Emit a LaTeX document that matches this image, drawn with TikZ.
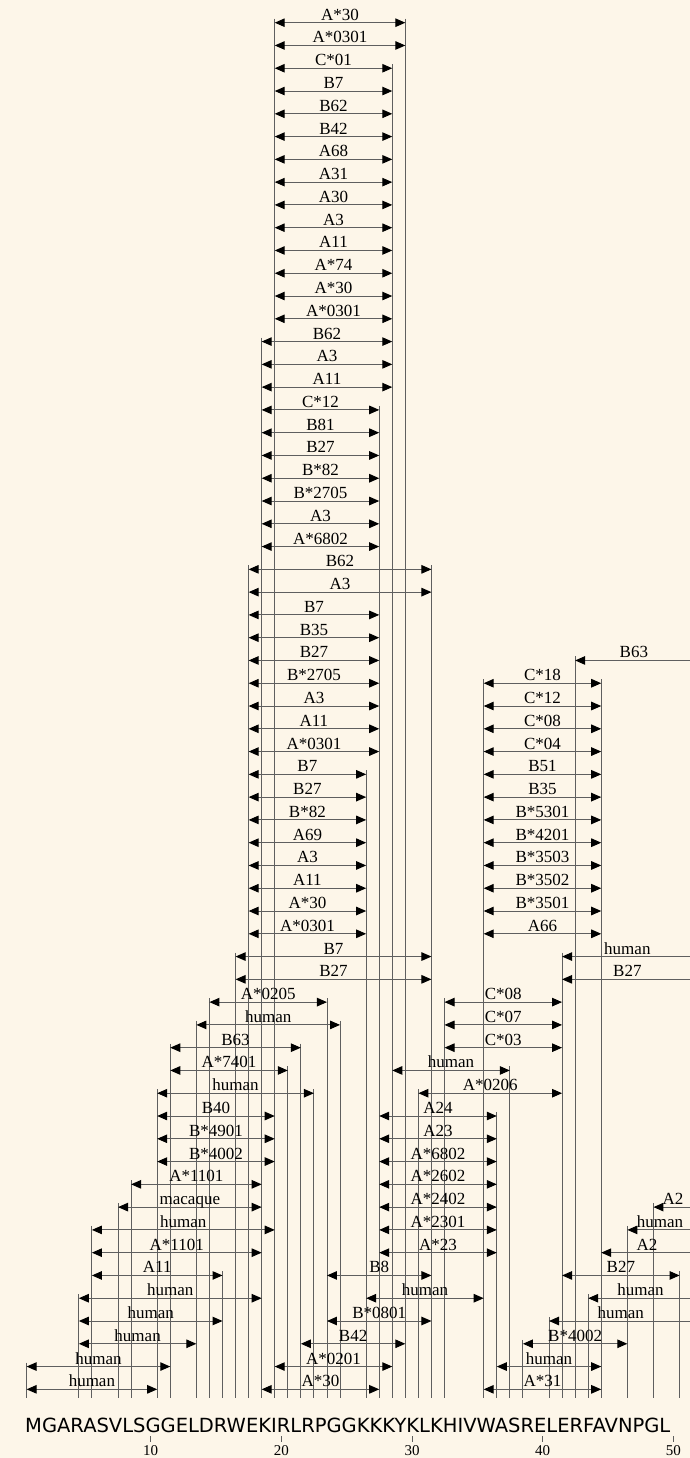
\documentclass[tikz,border=0pt]{standalone}
\usepackage{fontspec}
\setmainfont{Liberation Serif}
\newfontfamily\seqfont{DejaVu Sans}
\usetikzlibrary{arrows.meta}
\definecolor{paper}{RGB}{253,246,233}
\definecolor{rule}{RGB}{95,95,95}
\newcommand{\bnd}[1]{26.6+13.06*(#1)}
\newcommand{\rowy}[1]{22.7+22.777*(#1-1)}
\begin{document}
\begin{tikzpicture}[x=1pt,y=-1pt,
    twoway/.style={draw=rule,line width=1pt,{Triangle[length=10pt,width=8.5pt,color=black]}-{Triangle[length=10pt,width=8.5pt,color=black]}},
    oneway/.style={draw=rule,line width=1pt,{Triangle[length=10pt,width=8.5pt,color=black]}-},
    drop/.style={draw=rule,line width=0.9pt},
    allele/.style={font=\fontsize{17}{17}\selectfont,anchor=base,inner sep=0pt,yshift=2.5pt},
    num/.style={font=\fontsize{15}{15}\selectfont,anchor=base,inner sep=0pt}]
    \path[use as bounding box,fill=paper] (0,0) rectangle (690,1458);
    \clip (0,0) rectangle (690,1458);
    \coordinate (floor) at (0,1398);
    \foreach \row/\from/\to/\lab/\kind [count=\n] in {
        1/20/29/A*30/twoway, 2/20/29/A*0301/twoway, 3/20/28/C*01/twoway, 4/20/28/B7/twoway,
        5/20/28/B62/twoway, 6/20/28/B42/twoway, 7/20/28/A68/twoway, 8/20/28/A31/twoway,
        9/20/28/A30/twoway, 10/20/28/A3/twoway, 11/20/28/A11/twoway, 12/20/28/A*74/twoway,
        13/20/28/A*30/twoway, 14/20/28/A*0301/twoway, 15/19/28/B62/twoway, 16/19/28/A3/twoway,
        17/19/28/A11/twoway, 18/19/27/C*12/twoway, 19/19/27/B81/twoway, 20/19/27/B27/twoway,
        21/19/27/B*82/twoway, 22/19/27/B*2705/twoway, 23/19/27/A3/twoway, 24/19/27/A*6802/twoway,
        25/18/31/B62/twoway, 26/18/31/A3/twoway, 27/18/27/B7/twoway, 28/18/27/B35/twoway,
        29/18/27/B27/twoway, 29/43/51/B63/oneway,
        30/18/27/B*2705/twoway, 30/36/44/C*18/twoway,
        31/18/27/A3/twoway, 31/36/44/C*12/twoway,
        32/18/27/A11/twoway, 32/36/44/C*08/twoway,
        33/18/27/A*0301/twoway, 33/36/44/C*04/twoway,
        34/18/26/B7/twoway, 34/36/44/B51/twoway,
        35/18/26/B27/twoway, 35/36/44/B35/twoway,
        36/18/26/B*82/twoway, 36/36/44/B*5301/twoway,
        37/18/26/A69/twoway, 37/36/44/B*4201/twoway,
        38/18/26/A3/twoway, 38/36/44/B*3503/twoway,
        39/18/26/A11/twoway, 39/36/44/B*3502/twoway,
        40/18/26/A*30/twoway, 40/36/44/B*3501/twoway,
        41/18/26/A*0301/twoway, 41/36/44/A66/twoway,
        42/17/31/B7/twoway, 42/42/51/human/oneway,
        43/17/31/B27/twoway, 43/42/51/B27/oneway,
        44/15/23/A*0205/twoway, 44/33/41/C*08/twoway,
        45/14/24/human/twoway, 45/33/41/C*07/twoway,
        46/12/21/B63/twoway, 46/33/41/C*03/twoway,
        47/12/20/A*7401/twoway, 47/29/37/human/twoway,
        48/11/22/human/twoway, 48/31/41/A*0206/twoway,
        49/11/19/B40/twoway, 49/28/36/A24/twoway,
        50/11/19/B*4901/twoway, 50/28/36/A23/twoway,
        51/11/19/B*4002/twoway, 51/28/36/A*6802/twoway,
        52/9/18/A*1101/twoway, 52/28/36/A*2602/twoway,
        53/8/18/macaque/twoway, 53/28/36/A*2402/twoway, 53/49/51/A2/oneway,
        54/6/19/human/twoway, 54/28/36/A*2301/twoway, 54/47/51/human/oneway,
        55/6/18/A*1101/twoway, 55/28/36/A*23/twoway, 55/45/51/A2/oneway,
        56/6/15/A11/twoway, 56/24/31/B8/twoway, 56/42/50/B27/twoway,
        57/5/18/human/twoway, 57/27/35/human/twoway, 57/44/51/human/oneway,
        58/5/15/human/twoway, 58/24/31/B*0801/twoway, 58/41/51/human/oneway,
        59/5/13/human/twoway, 59/22/29/B42/twoway, 59/39/46/B*4002/twoway,
        60/1/11/human/twoway, 60/20/28/A*0201/twoway, 60/37/44/human/twoway,
        61/1/10/human/twoway, 61/19/27/A*30/twoway, 61/36/44/A*31/twoway}{
      \coordinate (l\n) at ({\bnd{\from-1}},{\rowy{\row}});
      \coordinate (r\n) at ({\bnd{\to}},{\rowy{\row}});
      \draw[drop] ([yshift=4pt]l\n) -- (l\n |- floor);
      \draw[drop] ([yshift=4pt]r\n) -- (r\n |- floor);
      \draw[\kind] (l\n) -- (r\n) node[allele,midway] {\lab};
    }
    \node[font=\seqfont\fontsize{19.5}{20}\selectfont,anchor=base west,inner sep=0pt] (seq) at (25,1432.7) {MGARASVLSGGELDRWEKIRLRPGGKKKYKLKHIVWASRELERFAVNPGL};
    \foreach \n in {10,20,...,50}{
      \node[num] (t\n) at ({150.7+13.065*(\n-10)},1455.5) {\n};
      \draw[drop] ([yshift=3.5pt]t\n.north) -- ++(0,-6);
    }
  \end{tikzpicture}
\end{document}
